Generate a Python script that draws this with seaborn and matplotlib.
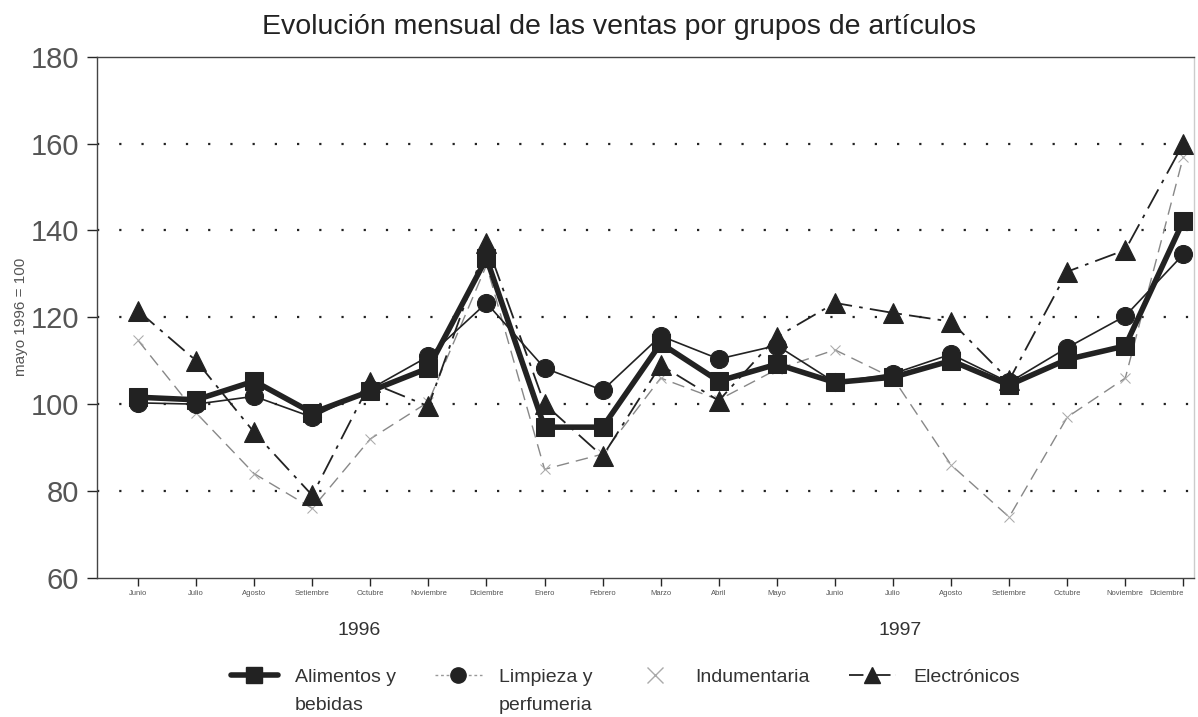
import matplotlib
matplotlib.use("Agg")
import matplotlib.pyplot as plt
import seaborn as sns
import pandas as pd
from matplotlib.lines import Line2D

# data (index mayo 1996 = 100)
meses = ["Junio", "Julio", "Agosto", "Setiembre", "Octubre", "Noviembre", "Diciembre",
         "Enero", "Febrero", "Marzo", "Abril", "Mayo", "Junio", "Julio", "Agosto",
         "Setiembre", "Octubre", "Noviembre", "Diciembre"]
alimentos = [101.6, 101, 105.3, 98, 103, 108.3, 133.6, 94.7, 94.7, 114, 105.3, 109.2,
             105, 106.2, 110, 104.4, 110.3, 113.4, 142.2]
limpieza = [100.3, 100, 101.8, 97, 103.5, 111, 123.3, 108.3, 103.2, 115.7, 110.4, 113.5,
            105, 107, 111.5, 105, 113, 120.3, 134.5]
indumentaria = [114.7, 98, 84, 76, 92, 100.5, 132, 85, 88.5, 106, 101, 108, 112.5, 106,
                86, 74, 97, 106, 157]
electronicos = [121.5, 110, 93.5, 79, 105, 99.5, 137, 100, 88, 109, 100.8, 115.5, 123.3,
                121, 119, 105.5, 130.5, 135.5, 160]

df = pd.DataFrame({"x": range(len(meses)), "alim": alimentos, "limp": limpieza,
                   "indu": indumentaria, "elec": electronicos})

sns.set_style("white")
plt.rcParams["font.family"] = ["Liberation Sans", "DejaVu Sans"]

fig = plt.figure(figsize=(11.98, 7.17), dpi=100)
ax = fig.add_axes([0.081, 0.194, 0.916, 0.727])

# dotted reference lines
for v in [80, 100, 120, 140, 160]:
    ax.axhline(v, color="#222222", lw=1.6, ls=(0, (1, 9)), zorder=0)

sns.lineplot(data=df, x="x", y="indu", ax=ax, color="#888888", lw=1.0,
             linestyle=(0, (9, 5)), marker="x", markersize=7,
             markeredgecolor="#aaaaaa", zorder=2)
sns.lineplot(data=df, x="x", y="elec", ax=ax, color="#222222", lw=1.3,
             linestyle=(0, (12, 4, 2, 4)), marker="^", markersize=14,
             markeredgecolor="#222222", zorder=3)
sns.lineplot(data=df, x="x", y="limp", ax=ax, color="#222222", lw=1.2,
             marker="o", markersize=13, markeredgecolor="#222222", zorder=4)
sns.lineplot(data=df, x="x", y="alim", ax=ax, color="#222222", lw=4,
             marker="s", markersize=13, markeredgecolor="#222222", zorder=5)

ax.set_xlim(-0.706, 18.19)
ax.set_ylim(60, 180)
ax.set_yticks(range(60, 181, 20))
ax.set_xticks(range(len(meses)))
ax.set_xticklabels(meses, fontsize=5.5, color="#555555")
ax.get_xticklabels()[-1].set_ha("right")
ax.tick_params(axis="y", labelsize=21, labelcolor="#555555", length=7, width=1,
               direction="out", left=True, pad=6)
ax.tick_params(axis="x", length=6, width=1, direction="out", bottom=True, pad=3)
ax.set_xlabel("")
ax.set_ylabel("mayo 1996 = 100", fontsize=11, color="#555555", labelpad=2)
for s in ax.spines.values():
    s.set_color("#444444")
    s.set_linewidth(1.0)
ax.spines["right"].set_color("#cccccc")

fig.text(0.517, 0.963, "Evolución mensual de las ventas por grupos de artículos",
         ha="center", va="center", fontsize=20.5, color="#222222")
fig.text(0.300, 0.120, "1996", ha="center", va="center", fontsize=14, color="#333333")
fig.text(0.751, 0.120, "1997", ha="center", va="center", fontsize=14, color="#333333")

handles = [
    Line2D([], [], color="#222222", lw=4, marker="s", markersize=11),
    Line2D([], [], color="#999999", lw=1, ls=(0, (2, 2)), marker="o", markersize=11,
           markerfacecolor="#222222", markeredgecolor="#222222"),
    Line2D([], [], color="none", marker="x", markersize=12, markeredgecolor="#aaaaaa"),
    Line2D([], [], color="#222222", lw=1.3, ls=(0, (8, 3, 1, 3)), marker="^",
           markersize=12),
]
labels = ["Alimentos y", "Limpieza y", "Indumentaria", "Electrónicos"]
segundas = ["bebidas", "perfumeria", "", ""]
leg = fig.legend(handles, labels, loc="center", bbox_to_anchor=(0.522, 0.056),
                 ncol=4, frameon=False, fontsize=14, handlelength=2.4,
                 columnspacing=2.0, handletextpad=0.9)

# second line of the two-line labels, placed under the legend text
fig.canvas.draw()
r = fig.canvas.get_renderer()
inv = fig.transFigure.inverted()
for t, extra in zip(leg.get_texts(), segundas):
    t.set_color("#333333")
    if extra:
        bb = t.get_window_extent(r)
        x0, y0 = inv.transform((bb.x0, bb.y0))
        fig.text(x0, y0 - 0.016, extra, ha="left", va="top", fontsize=14,
                 color="#333333")

fig.savefig("out.png", dpi=100)
